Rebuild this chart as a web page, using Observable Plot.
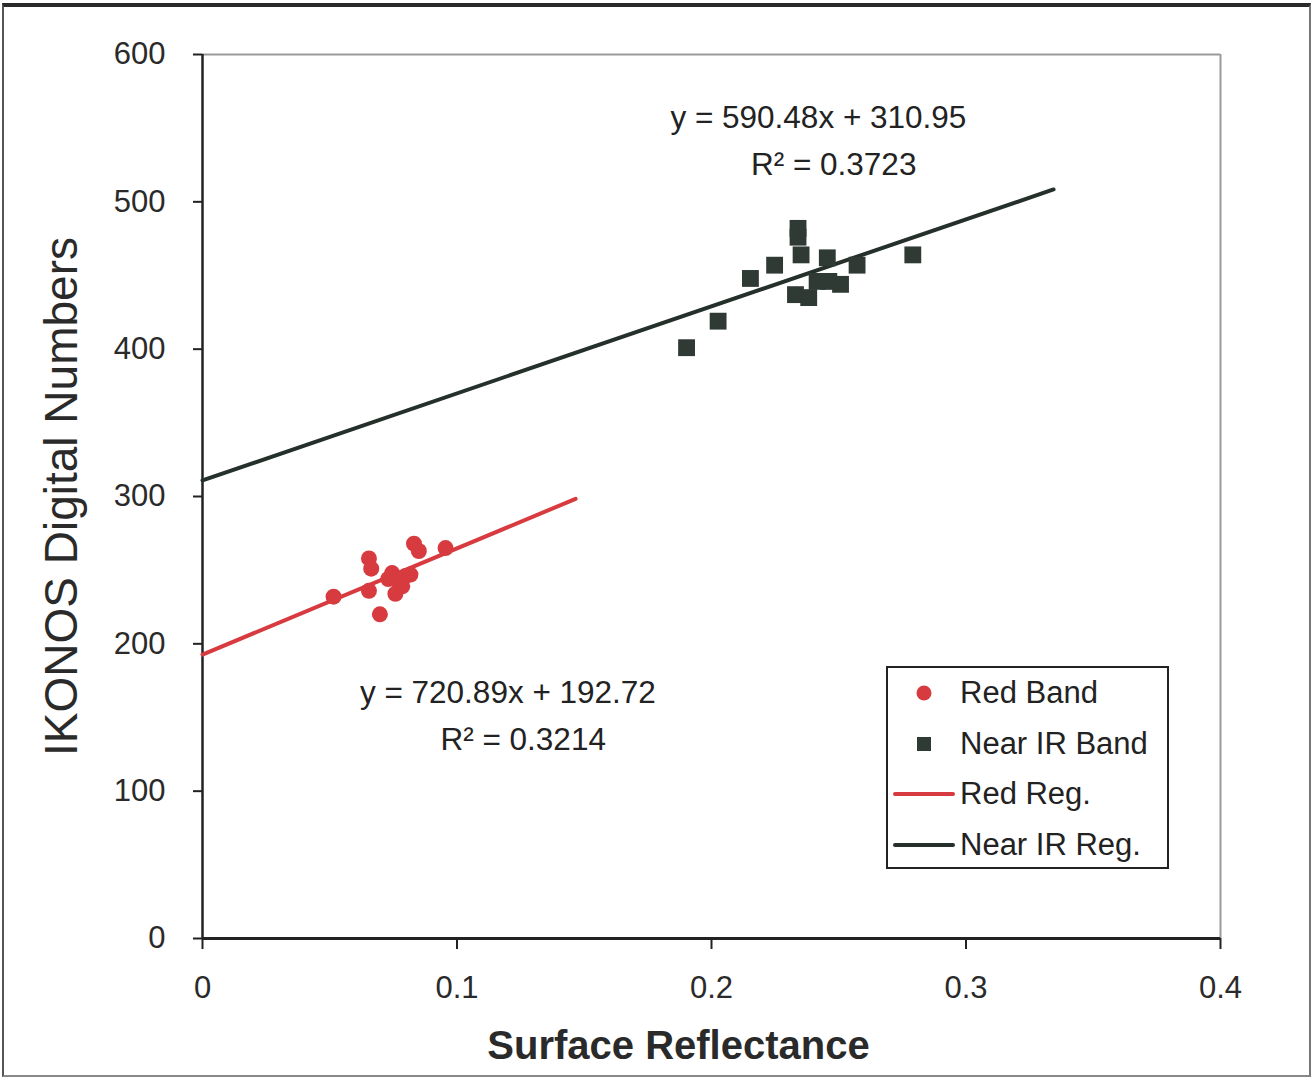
<!DOCTYPE html>
<html>
<head>
<meta charset="utf-8">
<script src="https://cdn.jsdelivr.net/npm/d3@7"></script>
<script src="https://cdn.jsdelivr.net/npm/@observablehq/plot@0.6"></script>
<style>
  html, body { margin: 0; padding: 0; background: #fff; }
  #wrap { position: relative; width: 1316px; height: 1083px; font-family: "Liberation Sans", Arial, sans-serif; }
  #border { position: absolute; left: 2px; top: 3px; width: 1309px; height: 1074px; border-left: 2px solid #555; border-right: 2px solid #777; border-top: 4px solid #2a2a2a; border-bottom: 2px solid #888; box-sizing: border-box; pointer-events: none; }
  #legend { position: absolute; left: 886px; top: 666px; width: 283px; height: 203px; border: 2px solid #222; box-sizing: border-box; background: #fff; }
  .item { position: absolute; left: 0; height: 50px; display: flex; align-items: center; font-size: 31px; color: #222; }
  .sym { width: 72px; display: flex; justify-content: center; align-items: center; }
</style>
</head>
<body>
<div id="wrap">
  <div id="chart"></div>
  <div id="legend"></div>
  <div id="border"></div>
</div>
<script>
// Red band: surface reflectance vs IKONOS DN
const redX = [0.0515, 0.0654, 0.0663, 0.0654, 0.0697, 0.0745, 0.0730, 0.0758, 0.0771, 0.0798, 0.0817, 0.0785, 0.0831, 0.0850, 0.0955];
const redY = [232, 258, 251, 236, 220, 248, 244, 234, 242, 246, 247, 239, 268, 263, 265];
// Near IR band
const nirX = [0.1902, 0.2026, 0.2153, 0.2248, 0.2340, 0.2340, 0.2352, 0.2330, 0.2382, 0.2415, 0.2455, 0.2461, 0.2507, 0.2572, 0.2791];
const nirY = [401, 419, 448, 457, 482, 476, 464, 437, 435, 446, 462, 446, 444, 457, 464];
// Regression lines: [x start, x end]
const redRegX = [0, 0.1466];
const nirRegX = [0, 0.3344];
const redSlope = 720.89, redIntercept = 192.72;
const nirSlope = 590.48, nirIntercept = 310.95;
// Axis ticks
const xTicks = [0, 0.1, 0.2, 0.3, 0.4];
const yTicks = [0, 100, 200, 300, 400, 500, 600];
// Equation annotations (data coordinates)
const annotations = [
  {x: 0.242, y: 557, text: "y = 590.48x + 310.95"},
  {x: 0.248, y: 525, text: "R² = 0.3723"},
  {x: 0.12, y: 167, text: "y = 720.89x + 192.72"},
  {x: 0.126, y: 135, text: "R² = 0.3214"}
];
const legendItems = ["Red Band", "Near IR Band", "Red Reg.", "Near IR Reg."];

const RED = "#d83b3f";
const DARK = "#25302b";

const redPts = redX.map((x, i) => ({x, y: redY[i]}));
const nirPts = nirX.map((x, i) => ({x, y: nirY[i]}));
const redLine = redRegX.map(x => ({x, y: redSlope * x + redIntercept}));
const nirLine = nirRegX.map(x => ({x, y: nirSlope * x + nirIntercept}));

const chart = Plot.plot({
  width: 1316,
  height: 1083,
  marginLeft: 202,
  marginRight: 96,
  marginTop: 54,
  marginBottom: 145,
  style: {fontFamily: "Liberation Sans, Arial, sans-serif", fontSize: "31px", color: "#2a2a2a", background: "transparent"},
  x: {domain: [0, 0.4]},
  y: {domain: [0, 600]},
  marks: [
    Plot.ruleY([600], {stroke: "#9a9a9a", strokeWidth: 2}),
    Plot.ruleX([0.4], {stroke: "#9a9a9a", strokeWidth: 2}),
    Plot.axisX({ticks: xTicks, tickSize: 11, tickPadding: 26, tickFormat: d => String(d), label: null, stroke: "#222", strokeWidth: 2, fontSize: 31}),
    Plot.axisY({ticks: yTicks, tickSize: 9, tickPadding: 28, label: null, stroke: "#222", strokeWidth: 2, fontSize: 31}),
    Plot.ruleX([0], {stroke: "#222", strokeWidth: 2.5}),
    Plot.ruleY([0], {stroke: "#222", strokeWidth: 3}),
    Plot.line(redLine, {x: "x", y: "y", stroke: RED, strokeWidth: 4}),
    Plot.line(nirLine, {x: "x", y: "y", stroke: DARK, strokeWidth: 4}),
    Plot.dot(redPts, {x: "x", y: "y", r: 8, fill: RED, stroke: "none"}),
    Plot.dot(nirPts, {x: "x", y: "y", r: 9.5, symbol: "square", fill: "#2f3a35", stroke: "none"}),
    Plot.text(annotations, {x: "x", y: "y", text: "text", fontSize: 31.5, fill: "#222", textAnchor: "middle"}),
    Plot.text(["Surface Reflectance"], {frameAnchor: "bottom", dx: -33, dy: 120, fontSize: 40, fontWeight: "bold", fill: "#2a2a2a"}),
    Plot.text(["IKONOS Digital Numbers"], {frameAnchor: "left", textAnchor: "middle", dx: -140, rotate: -90, fontSize: 46, fill: "#2a2a2a"})
  ]
});
document.getElementById("chart").appendChild(chart);

// Legend
const legend = document.getElementById("legend");
legendItems.forEach((name, i) => {
  const item = document.createElement("div");
  item.className = "item";
  item.style.top = (i * 50.5 + 0) + "px";
  const sym = document.createElement("div");
  sym.className = "sym";
  let s;
  if (i === 0) s = `<svg width="20" height="20"><circle cx="10" cy="10" r="7.5" fill="${RED}"/></svg>`;
  else if (i === 1) s = `<svg width="20" height="20"><rect x="3" y="3" width="14" height="14" fill="#2f3a35"/></svg>`;
  else s = `<svg width="62" height="10"><line x1="2" x2="60" y1="5" y2="5" stroke="${i === 2 ? RED : DARK}" stroke-width="4" stroke-linecap="round"/></svg>`;
  sym.innerHTML = s;
  item.appendChild(sym);
  const t = document.createElement("span");
  t.textContent = name;
  item.appendChild(t);
  legend.appendChild(item);
});
</script>
</body>
</html>
